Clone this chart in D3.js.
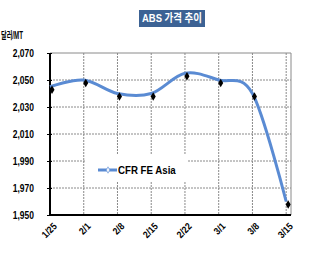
<!DOCTYPE html>
<html lang="ko">
<head>
<meta charset="UTF-8" />
<title>ABS 가격 추이</title>
<script src="https://d3js.org/d3.v7.min.js"></script>
<style>
  body { margin: 0; background: #fff; }
  svg { display: block; }
  text { font-family: "Liberation Sans", Arial, "Noto Sans CJK KR", sans-serif; font-weight: bold; fill: #000; }
</style>
</head>
<body>
<svg id="chart" width="313" height="265"></svg>
<script>
  // data
  const dates = ["2013-01-25", "2013-02-01", "2013-02-08", "2013-02-15", "2013-02-22", "2013-03-01", "2013-03-08", "2013-03-15"];
  const dateLabels = ["1/25", "2/1", "2/8", "2/15", "2/22", "3/1", "3/8", "3/15"];
  const cfrFeAsia = [2045, 2050, 2040, 2040, 2055, 2050, 2040, 1960];
  const yTicks = [1950, 1970, 1990, 2010, 2030, 2050, 2070];
  const seriesName = "CFR FE Asia";
  const title = "ABS 가격 추이";
  const unit = "달러/MT";

  const parse = d3.timeParse("%Y-%m-%d");
  const points = dates.map((d, i) => ({ date: parse(d), value: cfrFeAsia[i], label: dateLabels[i] }));

  const svg = d3.select("#chart");
  const margin = { top: 53, right: 22, bottom: 50, left: 50 };
  const width = 313 - margin.left - margin.right;
  const height = 265 - margin.top - margin.bottom;

  // the original font is narrower than anything installed, so squeeze text a bit
  function condense(sel, k) {
    sel.each(function () {
      const w = this.getComputedTextLength();
      d3.select(this).attr("textLength", w * k).attr("lengthAdjust", "spacingAndGlyphs");
    });
  }

  const lastDay = d3.timeDay.offset(points[points.length - 1].date, 1);
  const x = d3.scaleTime().domain([points[0].date, lastDay]).range([0, width]);
  const y = d3.scaleLinear().domain([1950, 2070]).range([height, 0]);

  // title box
  const tg = svg.append("g").attr("transform", "translate(172,18.5)");
  tg.append("rect").attr("x", -33).attr("y", -8.5).attr("width", 66).attr("height", 17).attr("fill", "#3c6294");
  tg.append("text").attr("text-anchor", "middle").attr("dy", "0.36em")
    .attr("font-size", 11).attr("textLength", 60).attr("lengthAdjust", "spacingAndGlyphs")
    .style("fill", "#fff").text(title);

  svg.append("text").attr("x", 1).attr("y", 39).attr("font-size", 10)
    .attr("textLength", 22).attr("lengthAdjust", "spacingAndGlyphs").text(unit);

  const g = svg.append("g").attr("transform", `translate(${margin.left},${margin.top})`);

  // grid
  g.append("g").selectAll("line").data(yTicks.slice(1, -1)).join("line")
    .attr("x1", 0).attr("x2", width).attr("y1", d => y(d)).attr("y2", d => y(d))
    .attr("stroke", "#8a8a8a").attr("stroke-dasharray", "2,1");
  g.append("g").selectAll("line").data(points.slice(1)).join("line")
    .attr("x1", d => x(d.date)).attr("x2", d => x(d.date)).attr("y1", 0).attr("y2", height)
    .attr("stroke", "#8a8a8a").attr("stroke-dasharray", "2,1");
  g.append("line").attr("x1", 0).attr("x2", width).attr("y1", 0).attr("y2", 0).attr("stroke", "#8a8a8a");
  g.append("line").attr("x1", width).attr("x2", width).attr("y1", 0).attr("y2", height).attr("stroke", "#8a8a8a");

  // legend box (sits over the grid)
  const lg = g.append("g").attr("transform", `translate(35,${y(1990) - 6})`);
  lg.append("rect").attr("width", 103).attr("height", 27).attr("fill", "#fff");
  lg.append("line").attr("x1", 13).attr("x2", 32).attr("y1", 15).attr("y2", 15)
    .attr("stroke", "#5a8bd3").attr("stroke-width", 3);
  lg.append("path").attr("d", d3.symbol(d3.symbolDiamond, 12)()).attr("transform", "translate(23,15)")
    .attr("fill", "#eef3fb").attr("stroke", "#5a8bd3").attr("stroke-width", 0.6);
  lg.append("text").attr("x", 33).attr("y", 19).attr("font-size", 11).text(seriesName)
    .call(condense, 0.88);

  // axes
  const yAxis = g.append("g").call(d3.axisLeft(y).tickValues(yTicks).tickFormat(d3.format(",")).tickSize(3).tickSizeOuter(0));
  yAxis.select(".domain").remove();
  yAxis.selectAll(".tick line").attr("stroke", "#000").attr("x2", 2).attr("x1", -3);
  yAxis.selectAll(".tick text").attr("x", -16).attr("font-size", 11).attr("font-family", null)
    .call(condense, 0.77);

  const xAxis = g.append("g").attr("transform", `translate(0,${height})`)
    .call(d3.axisBottom(x).tickValues(points.map(d => d.date)).tickFormat((d, i) => dateLabels[i]).tickSize(0).tickSizeOuter(0));
  xAxis.select(".domain").remove();
  xAxis.selectAll(".tick text")
    .attr("font-family", null).attr("font-size", 10)
    .attr("text-anchor", "end").attr("y", 0).attr("dy", 0)
    .attr("transform", "translate(7,12) rotate(-45)")
    .call(condense, 0.85);

  g.append("line").attr("x1", 0).attr("x2", width).attr("y1", height).attr("y2", height).attr("stroke", "#000").attr("stroke-width", 2);
  g.append("line").attr("x1", 0).attr("x2", 0).attr("y1", 0).attr("y2", height + 1).attr("stroke", "#000").attr("stroke-width", 2);

  // series
  const line = d3.line().x(d => x(d.date)).y(d => y(d.value)).curve(d3.curveCardinal.tension(0));
  g.append("path").datum(points).attr("d", line).attr("fill", "none")
    .attr("stroke", "#5a8bd3").attr("stroke-width", 3);
  g.append("g").selectAll("path").data(points).join("path")
    .attr("d", d3.symbol(d3.symbolDiamond, 22)())
    .attr("transform", d => `translate(${x(d.date) + 2},${y(d.value) + 3})`)
    .attr("fill", "#000");
</script>
</body>
</html>
